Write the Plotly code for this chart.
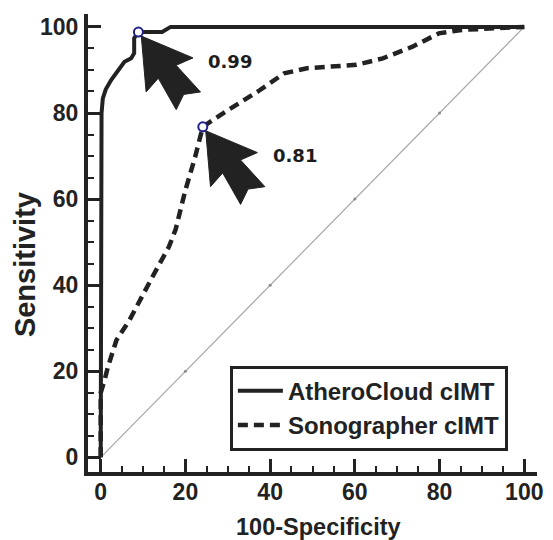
import math
import plotly.graph_objects as go

# ROC curves (100-Specificity vs Sensitivity, in %)
athero_fpr = [0, 0, 0.2, 0.5, 1.2, 2.5, 3.3, 5.6, 7.2, 7.9, 7.9, 8.9, 14.5, 16.5, 100]
athero_tpr = [0, 68, 80, 83.4, 85.5, 87.7, 88.8, 91.9, 92.7, 93.9, 97.4, 98.8, 98.8, 100, 100]

sono_fpr = [0, 0, 0.9, 1.7, 3.7, 6.8, 12.2, 16.1, 17.7, 20.0, 22.3, 24.1, 30.1, 37.1,
            43.3, 48.7, 60.4, 66.6, 73.6, 79.8, 85.2, 100]
sono_tpr = [0, 15, 17.9, 21, 27.2, 31.9, 41.9, 48.9, 53, 62.1, 69.8, 76.8, 80.7, 85,
            89.2, 90.4, 91.2, 92.7, 95.4, 98.5, 99.3, 100]

# optimal operating points and their labels
cut_fpr = [8.9, 24.1]
cut_tpr = [98.8, 76.8]
cut_labels = ["0.99", "0.81"]

# chance line
diag = [0, 100]
diag_marks = [20, 40, 60, 80]

major_ticks = [0, 20, 40, 60, 80, 100]

INK = "#222222"
FONT = "Liberation Sans, Arial, sans-serif"

fig = go.Figure()

fig.add_trace(go.Scatter(x=diag, y=diag, mode="lines",
                         line=dict(color="#a6a6a6", width=1.2),
                         showlegend=False, hoverinfo="skip"))
fig.add_trace(go.Scatter(x=diag_marks, y=diag_marks, mode="markers",
                         marker=dict(color="#8a8a8a", size=3),
                         showlegend=False, hoverinfo="skip"))

fig.add_trace(go.Scatter(x=athero_fpr, y=athero_tpr, mode="lines",
                         name="AtheroCloud cIMT",
                         line=dict(color=INK, width=4)))
fig.add_trace(go.Scatter(x=sono_fpr, y=sono_tpr, mode="lines",
                         name="Sonographer cIMT",
                         line=dict(color=INK, width=4.5, dash="10px,6px")))

fig.add_trace(go.Scatter(x=cut_fpr, y=cut_tpr, mode="markers",
                         marker=dict(symbol="circle", size=9, color="white",
                                     line=dict(color="#22228a", width=2)),
                         showlegend=False))


def arrow_path(angle_deg=54, start=5):
    """Block arrow with a swallow tail, tip at the anchor, pointing up-left."""
    local = [(0, 0), (48, -29), (44, -11), (80, -15), (72, 0),
             (80, 15), (44, 11), (48, 29)]
    a = math.radians(angle_deg)
    d = (math.cos(a), math.sin(a))
    n = (-math.sin(a), math.cos(a))
    pts = []
    for u, v in local:
        u += start
        sx = u * d[0] + v * n[0]
        sy = u * d[1] + v * n[1]
        pts.append((sx, -sy))  # pixel y in shapes points upward
    return "M" + " L".join(f"{x:.1f},{y:.1f}" for x, y in pts) + " Z"


shapes = []
annotations = []
for fx, ty, lab in zip(cut_fpr, cut_tpr, cut_labels):
    shapes.append(dict(type="path", xref="x", yref="y",
                       xsizemode="pixel", ysizemode="pixel",
                       xanchor=fx, yanchor=ty, path=arrow_path(),
                       fillcolor=INK, line=dict(color=INK, width=1),
                       layer="above"))
    annotations.append(dict(x=fx, y=ty, xref="x", yref="y", text=lab,
                            showarrow=False, xanchor="left", yanchor="middle",
                            xshift=68, yshift=-29,
                            font=dict(family="DejaVu Sans, Verdana, sans-serif",
                                      size=18, color="#1c1c1c", weight="bold")))

annotations.append(dict(x=-0.14, y=0.452, xref="paper", yref="paper",
                        text="Sensitivity", textangle=-90, showarrow=False,
                        xanchor="center", yanchor="middle",
                        font=dict(family=FONT, size=29, color=INK, weight="bold")))
annotations.append(dict(x=0.514, y=-0.12, xref="paper", yref="paper",
                        text="100-Specificity", showarrow=False,
                        xanchor="center", yanchor="middle",
                        font=dict(family=FONT, size=23.5, color=INK, weight="bold")))

axis_common = dict(
    showline=True, linewidth=4, linecolor=INK, mirror=False,
    ticks="inside", ticklen=13, tickwidth=3, tickcolor=INK,
    tickvals=major_ticks, showgrid=False, zeroline=False,
    tickfont=dict(family=FONT, size=23, color=INK, weight="bold"),
    minor=dict(dtick=5, ticks="inside", ticklen=6, tickwidth=2, tickcolor=INK,
               showgrid=False),
)

fig.update_layout(
    width=553, height=540,
    margin=dict(l=88, r=10, t=14, b=68),
    plot_bgcolor="white", paper_bgcolor="white",
    xaxis=dict(range=[-3, 103], ticklabelstandoff=-4, **axis_common),
    yaxis=dict(range=[-3.4, 103], ticklabelstandoff=1, **axis_common),
    legend=dict(x=0.316, y=0.232, xanchor="left", yanchor="top",
                bordercolor=INK, borderwidth=3, bgcolor="white",
                font=dict(family=FONT, size=24, color=INK, weight="bold"),
                tracegroupgap=0, itemwidth=45),
    shapes=shapes,
    annotations=annotations,
    showlegend=True,
)

fig.write_html("out.html")
